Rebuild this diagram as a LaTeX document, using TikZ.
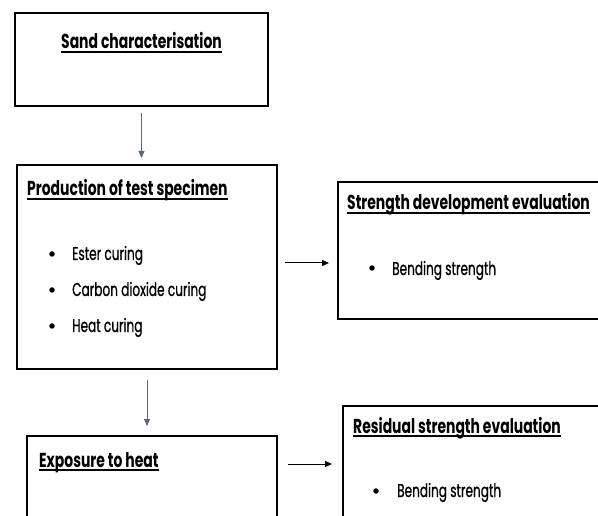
\documentclass[tikz,border=0pt]{standalone}
\usepackage{fontspec}
\setmainfont{Poppins}[FakeStretch=0.66]
\newfontfamily\ttlfont{Poppins}[FakeStretch=0.69]
\newfontfamily\bodyfont{Poppins}[FakeStretch=0.655, FakeBold=0.8]
\usetikzlibrary{arrows.meta}
\definecolor{arrowgray}{HTML}{5A667A}
\newcommand\ttlul[1]{\setbox0\hbox{#1}\rlap{\rule[-4pt]{\wd0}{2.2pt}}\box0}
\begin{document}
\begin{tikzpicture}[x=1pt,y=-1pt,
  stagebox/.style={draw=black, line width=2pt, anchor=north west, inner sep=0pt},
  ttl/.style={anchor=base west, inner sep=0pt, font=\ttlfont\bfseries\fontsize{20.2}{24}\selectfont},
  itm/.style={anchor=base west, inner sep=0pt, font=\bodyfont\fontsize{18.5}{22}\selectfont},
  dot/.style={circle, fill=black, inner sep=0pt, minimum size=5.5pt},
  garrow/.style={draw=arrowgray, line width=0.8pt, -{Triangle[length=7pt,width=6pt]}},
  karrow/.style={draw=black, line width=1pt, -{Triangle[length=7pt,width=6pt]}}]
\useasboundingbox (0,0) rectangle (598,516);
\clip (0,0) rectangle (598,516);
\fill[white] (0,0) rectangle (598,516);
% boxes
\node[stagebox, minimum width=253pt, minimum height=93pt] (b1) at (14,12) {};
\node[stagebox, minimum width=260pt, minimum height=204pt] (b2) at (16,164) {};
\node[stagebox, minimum width=280pt, minimum height=137pt] (b3) at (337,181) {};
\node[stagebox, minimum width=250pt, minimum height=100pt] (b4) at (26,435) {};
\node[stagebox, minimum width=280pt, minimum height=130pt] (b5) at (342,405) {};
% titles
\node[ttl] (t1) at (61,49) {\ttlul{Sand characterisation}};
\node[ttl] (t2) at (27,196) {\ttlul{Production of test specimen}};
\node[ttl] (t3) at (347,210) {\ttlul{Strength development evaluation}};
\node[ttl] (t4) at (39,467) {\ttlul{Exposure to heat}};
\node[ttl] (t5) at (353,433) {\ttlul{Residual strength evaluation}};
% bullets
\node[dot] (d21) at (52,254) {};
\node[itm] (i21) at (72,260) {Ester curing};
\node[dot] (d22) at (52,290) {};
\node[itm] (i22) at (72,296) {Carbon dioxide curing};
\node[dot] (d23) at (52,326) {};
\node[itm] (i23) at (72,332) {Heat curing};
\node[dot] (d31) at (372,268) {};
\node[itm] (i31) at (392,275) {Bending strength};
\node[dot] (d51) at (376,491) {};
\node[itm] (i51) at (397,497) {Bending strength};
% connectors
\coordinate (h1) at (0,263);
\coordinate (h2) at (0,464);
\draw[garrow, shorten <=6pt, shorten >=6pt] (b1.south) -- (b1.south |- b2.north);
\draw[garrow, shorten <=10pt, shorten >=9pt] (b2.south) -- (b2.south |- b4.north);
\draw[karrow, shorten <=7pt, shorten >=8pt] (b2.east |- h1) -- (b3.west |- h1);
\draw[karrow, shorten <=10pt, shorten >=10pt] (b4.east |- h2) -- (b5.west |- h2);
\end{tikzpicture}
\end{document}
